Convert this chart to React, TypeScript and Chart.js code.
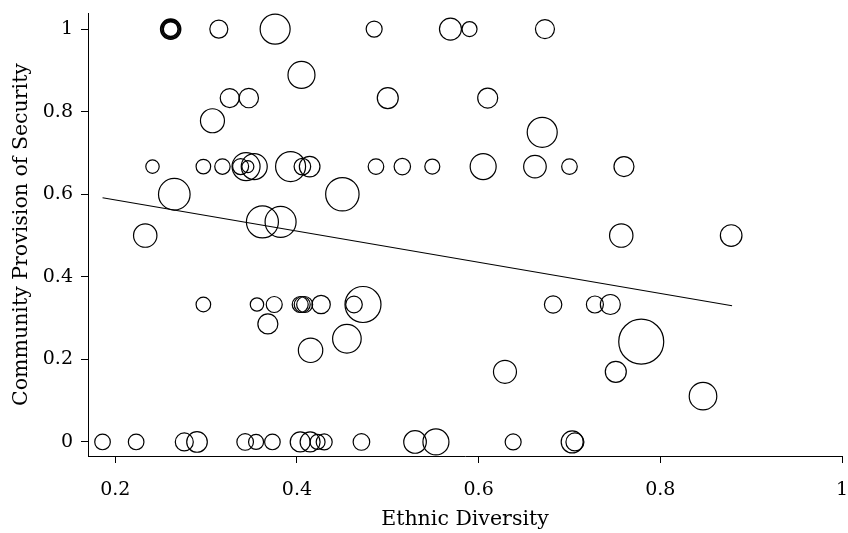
import { useEffect, useRef } from "react";
import { Chart, registerables } from "chart.js";

Chart.register(...registerables);

// Ethnic diversity (x) and community provision of security (y), marker weight (bubble radius)
const diversity = [
  0.314, 0.376, 0.485, 0.569, 0.590, 0.673,
  0.405,
  0.326, 0.347, 0.500, 0.610,
  0.307,
  0.670,
  0.241, 0.297, 0.318, 0.338, 0.344, 0.353, 0.346, 0.393, 0.406, 0.414, 0.487, 0.516, 0.549, 0.605, 0.662, 0.700, 0.760,
  0.265, 0.450,
  0.362, 0.382,
  0.233, 0.757, 0.878,
  0.297, 0.356, 0.375, 0.4036, 0.4058, 0.4085, 0.4266, 0.4628, 0.4727, 0.682, 0.728, 0.745,
  0.368,
  0.455,
  0.415,
  0.779,
  0.629, 0.751,
  0.847,
  0.186, 0.223, 0.276, 0.290, 0.343, 0.355, 0.373, 0.4036, 0.4145, 0.4227, 0.430, 0.471, 0.530, 0.553, 0.638, 0.703, 0.706,
];
const provision = [
  1, 1, 1, 1, 1, 1,
  0.889,
  0.833, 0.833, 0.833, 0.833,
  0.778,
  0.75,
  0.667, 0.667, 0.667, 0.667, 0.667, 0.667, 0.667, 0.667, 0.667, 0.667, 0.667, 0.667, 0.667, 0.667, 0.667, 0.667, 0.667,
  0.6, 0.6,
  0.533, 0.533,
  0.5, 0.5, 0.5,
  0.333, 0.333, 0.333, 0.333, 0.333, 0.333, 0.333, 0.333, 0.333, 0.333, 0.333, 0.333,
  0.286,
  0.25,
  0.222,
  0.243,
  0.17, 0.17,
  0.111,
  0, 0, 0, 0, 0, 0, 0, 0, 0, 0, 0, 0, 0, 0, 0, 0, 0,
];
const weight = [
  9, 15, 8, 11, 7.5, 9.5,
  13.5,
  9.5, 9.7, 10.5, 10,
  12,
  15,
  6.7, 7.3, 7.7, 8, 14, 13, 6, 15, 8.3, 10.3, 7.8, 8.2, 7.5, 13, 11.3, 7.8, 10,
  15.8, 16.7,
  16, 15.5,
  11.7, 11.7, 10.8,
  7.3, 6.7, 8, 8, 8, 8, 9.2, 8.3, 18, 8.7, 8.5, 10,
  10,
  14.3,
  12.2,
  22.5,
  11.5, 10.5,
  13.8,
  7.8, 7.8, 9, 10.3, 8.3, 7.5, 7.8, 10, 10, 7.5, 8, 8.3, 11.3, 13, 8, 11, 9,
];

// overlapping observations drawn as one heavy ring
const heavyX = [0.261, 0.261, 0.261];
const heavyY = [1, 1, 1];
const heavyWeight = [7.5, 8.75, 10];

// fitted regression line end points
const fitX = [0.186, 0.879];
const fitY = [0.5915, 0.33];

const xTicks = [0.2, 0.4, 0.6, 0.8, 1];
const yTicks = [0, 0.2, 0.4, 0.6, 0.8, 1];
const xTitle = "Ethnic Diversity";
const yTitle = "Community Provision of Security";

export default function App() {
  const ref = useRef<HTMLCanvasElement>(null);

  useEffect(() => {
    const canvas = ref.current;
    if (!canvas) return;
    const family = "'DejaVu Serif', serif";
    Chart.defaults.font.family = family;

    const points = diversity.map((x, i) => ({ x, y: provision[i], r: weight[i] }));
    const heavy = heavyX.map((x, i) => ({ x, y: heavyY[i], r: heavyWeight[i] }));
    const fit = fitX.map((x, i) => ({ x, y: fitY[i] }));

    const gridOpts = {
      display: true,
      drawOnChartArea: false,
      drawTicks: true,
      tickLength: 7,
      color: "#000",
      lineWidth: 1,
    };

    const noPad = (s: any) => {
      s.paddingTop = 0;
      s.paddingBottom = 0;
      s.paddingLeft = 0;
      s.paddingRight = 0;
    };

    const chart = new Chart(canvas, {
      type: "bubble",
      data: {
        datasets: [
          {
            type: "bubble",
            data: points,
            backgroundColor: "rgba(0,0,0,0)",
            borderColor: "#000",
            borderWidth: 1.2,
            clip: false,
          } as any,
          {
            type: "bubble",
            data: heavy,
            backgroundColor: "rgba(0,0,0,0)",
            borderColor: "#000",
            borderWidth: 1.6,
            clip: false,
          } as any,
          {
            type: "line",
            data: fit,
            borderColor: "#000",
            borderWidth: 1.2,
            pointRadius: 0,
            fill: false,
            tension: 0,
          } as any,
        ],
      },
      options: {
        responsive: false,
        animation: false,
        events: [],
        layout: { autoPadding: false, padding: { top: 13, right: 6, left: 0, bottom: 0 } },
        plugins: {
          legend: { display: false },
          tooltip: { enabled: false },
        },
        scales: {
          x: {
            type: "linear",
            min: 0.17,
            max: 1.0,
            afterBuildTicks: (s: any) => {
              s.ticks = xTicks.map((value) => ({ value }));
            },
            afterFit: (s: any) => {
              s.height = 77;
              noPad(s);
            },
            ticks: {
              color: "#000",
              font: { size: 19, family },
              padding: 16,
              maxRotation: 0,
              autoSkip: false,
              callback: (v: any) => String(v),
            },
            grid: gridOpts,
            border: { display: true, color: "#000", width: 1 },
            title: {
              display: true,
              text: xTitle,
              color: "#000",
              font: { size: 20.5, family },
              padding: { top: 0, bottom: 1 },
            },
          },
          y: {
            type: "linear",
            min: -0.034,
            max: 1.039,
            afterBuildTicks: (s: any) => {
              s.ticks = yTicks.map((value) => ({ value }));
            },
            afterFit: (s: any) => {
              s.width = 88;
              noPad(s);
            },
            ticks: {
              color: "#000",
              font: { size: 19, family },
              padding: 8,
              autoSkip: false,
              callback: (v: any) => String(v),
            },
            grid: gridOpts,
            border: { display: true, color: "#000", width: 1 },
            title: {
              display: true,
              text: yTitle,
              color: "#000",
              font: { size: 20.5, family },
              padding: { top: 9, bottom: 0 },
            },
          },
        },
      } as any,
    });

    return () => chart.destroy();
  }, []);

  return (
    <div style={{ position: "fixed", left: 0, top: 0, width: 848, height: 533, background: "#fff" }}>
      <canvas ref={ref} width={848} height={533} style={{ display: "block" }} />
    </div>
  );
}
